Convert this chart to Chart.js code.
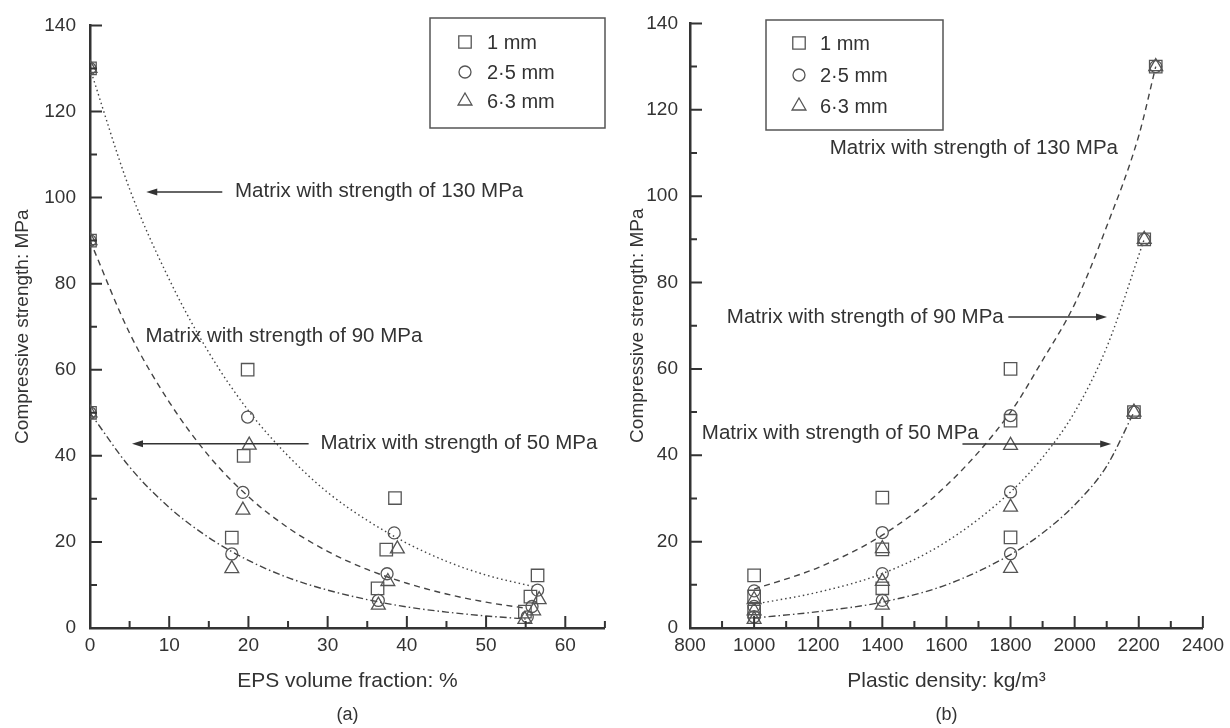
<!DOCTYPE html>
<html>
<head>
<meta charset="utf-8">
<script src="https://cdn.jsdelivr.net/npm/chart.js@4.4.1/dist/chart.umd.min.js"></script>
<style>
  html, body { margin: 0; padding: 0; background: #fff; }
  #wrap { position: relative; width: 1230px; height: 728px; }
  .panel { position: absolute; top: 0; width: 615px; height: 728px; }
</style>
</head>
<body>
<div id="wrap">
  <div class="panel" style="left:0"><canvas id="chartA" width="615" height="728"></canvas></div>
  <div class="panel" style="left:615px"><canvas id="chartB" width="615" height="728"></canvas></div>
</div>
<script>
// ---- (a) strength vs EPS volume fraction ----
var sizeLabels = ["1 mm", "2\u00b75 mm", "6\u00b73 mm"];

var epsSquareX = [0, 0, 0, 19.9, 19.4, 17.9, 38.5, 37.4, 36.3, 56.5, 55.6, 54.9];
var epsSquareY = [130, 90, 50, 60, 40, 21, 30.2, 18.2, 9.2, 12.2, 7.3, 3.8];
var epsCircleX = [0, 0, 0, 19.9, 19.3, 17.9, 38.4, 37.5, 36.4, 56.5, 55.8, 55.2];
var epsCircleY = [130, 90, 50, 49, 31.5, 17.2, 22.1, 12.6, 6.4, 8.8, 5.0, 2.6];
var epsTriangleX = [0, 0, 0, 20.1, 19.3, 17.9, 38.8, 37.6, 36.4, 56.7, 56, 54.9];
var epsTriangleY = [130, 90, 50, 42.5, 27.4, 13.8, 18.4, 10.8, 5.3, 6.6, 4.0, 2.0];

// fitted curves
var epsFit130X = [0, 5, 10, 15, 20, 25, 30, 35, 40, 45, 50, 56];
var epsFit130Y = [130, 102, 81, 64, 50.5, 40, 31.5, 25, 19.7, 15.5, 12.3, 9.6];
var epsFit90X = [0, 5, 10, 15, 20, 25, 30, 35, 40, 45, 50, 55];
var epsFit90Y = [90, 68.5, 52.5, 40, 30.5, 23.3, 17.8, 13.6, 10.4, 7.9, 6.0, 4.6];
var epsFit50X = [0, 5, 10, 15, 20, 25, 30, 35, 40, 45, 50, 55];
var epsFit50Y = [50, 37.4, 28, 21, 15.7, 11.7, 8.8, 6.6, 4.9, 3.7, 2.8, 2.1];

// ---- (b) strength vs plastic density ----
var denX = [1000, 1000, 1000, 1400, 1400, 1400, 1800, 1800, 1800, 2253, 2217, 2185];
var denSquareY = [12.2, 7.3, 3.8, 30.2, 18.2, 9.2, 60, 48, 21, 130, 90, 50];
var denCircleY = [8.6, 5.0, 2.6, 22.1, 12.6, 6.4, 49.2, 31.5, 17.2, 130, 90, 50];
var denTriangleY = [6.6, 4.0, 2.0, 18.4, 10.8, 5.3, 42.3, 28, 13.8, 130, 90, 50];

var denFit130X = [1000, 1200, 1400, 1600, 1800, 1900, 2000, 2100, 2200, 2253];
var denFit130Y = [9, 14, 21.5, 33, 50, 62, 75, 93, 114, 130];
var denFit90X = [1000, 1200, 1400, 1600, 1800, 1900, 2000, 2100, 2217];
var denFit90Y = [5.5, 8.3, 12.6, 20, 31.5, 39.5, 50, 65, 90];
var denFit50X = [1000, 1200, 1400, 1600, 1800, 1900, 2000, 2100, 2185];
var denFit50Y = [2.3, 3.8, 6, 10, 17, 22, 28.5, 37.5, 50];

var yTicks = [0, 20, 40, 60, 80, 100, 120, 140];
var epsTicks = [0, 10, 20, 30, 40, 50, 60];
var denTicks = [800, 1000, 1200, 1400, 1600, 1800, 2000, 2200, 2400];

var INK = "#333";
var MARK = "#555";
var DOT = [1.5, 3];
var DASH = [6, 4.5];
var DASHDOT = [7, 3, 1.5, 3];
var FAMILY = "'Liberation Sans', Arial, sans-serif";

Chart.defaults.font.family = FAMILY;
Chart.defaults.font.size = 19;
Chart.defaults.color = INK;

function pts(xs, ys) {
  return xs.map(function (x, i) { return { x: x, y: ys[i] }; });
}

function markerSet(label, style, radius, xs, ys) {
  return {
    label: label,
    data: pts(xs, ys),
    showLine: false,
    pointStyle: style,
    pointRadius: radius,
    pointHoverRadius: radius,
    pointBorderWidth: 1.3,
    pointBorderColor: MARK,
    pointBackgroundColor: "rgba(0,0,0,0)"
  };
}

function curveSet(label, xs, ys, dash) {
  return {
    label: label,
    data: pts(xs, ys),
    showLine: true,
    pointRadius: 0,
    pointHoverRadius: 0,
    borderColor: "#444",
    borderWidth: 1.4,
    borderDash: dash,
    cubicInterpolationMode: "monotone",
    fill: false
  };
}

function drawMarker(ctx, style, x, y, r) {
  ctx.beginPath();
  if (style === "rect") {
    var s = r * Math.SQRT1_2;
    ctx.rect(x - s, y - s, 2 * s, 2 * s);
  } else if (style === "circle") {
    ctx.arc(x, y, r, 0, Math.PI * 2);
  } else {
    for (var k = 0; k < 3; k++) {
      var a = k * 2 * Math.PI / 3;
      var px = x + r * Math.sin(a), py = y - r * Math.cos(a);
      if (k === 0) ctx.moveTo(px, py); else ctx.lineTo(px, py);
    }
    ctx.closePath();
  }
  ctx.stroke();
}

// inward tick marks, major + minor
var inwardTicks = {
  id: "inwardTicks",
  afterDraw: function (chart, args, o) {
    var ctx = chart.ctx, a = chart.chartArea;
    var xs = chart.scales.x, ys = chart.scales.y;
    ctx.save();
    ctx.strokeStyle = INK;
    ctx.lineWidth = 2;
    ctx.beginPath();
    var v, p, major;
    for (v = xs.min + o.xMinor; v <= xs.max + 1e-6; v += o.xMinor) {
      major = Math.abs(v / o.xMajor - Math.round(v / o.xMajor)) < 1e-6;
      p = xs.getPixelForValue(v);
      ctx.moveTo(p, a.bottom);
      ctx.lineTo(p, a.bottom - (major ? 12 : 7));
    }
    for (v = ys.min + o.yMinor; v <= ys.max + 1e-6; v += o.yMinor) {
      major = Math.abs(v / o.yMajor - Math.round(v / o.yMajor)) < 1e-6;
      p = ys.getPixelForValue(v);
      ctx.moveTo(a.left, p);
      ctx.lineTo(a.left + (major ? 12 : 7), p);
    }
    ctx.stroke();
    ctx.restore();
  }
};

// legend box with open markers
var boxLegend = {
  id: "boxLegend",
  afterDraw: function (chart, args, o) {
    var ctx = chart.ctx;
    ctx.save();
    ctx.strokeStyle = "#555";
    ctx.lineWidth = 1.5;
    ctx.strokeRect(o.left, o.top, o.width, o.height);
    ctx.font = "20px " + FAMILY;
    ctx.fillStyle = INK;
    ctx.textBaseline = "middle";
    ctx.textAlign = "left";
    for (var i = 0; i < 3; i++) {
      var ds = chart.data.datasets[i];
      ctx.strokeStyle = MARK;
      ctx.lineWidth = 1.3;
      drawMarker(ctx, ds.pointStyle, o.markerX, o.rows[i], ds.pointRadius);
      ctx.fillText(ds.label, o.textX, o.rows[i] + 1);
    }
    ctx.restore();
  }
};

// notes and arrows, anchored in data coordinates
var notes = {
  id: "notes",
  afterDraw: function (chart, args, o) {
    var ctx = chart.ctx, xs = chart.scales.x, ys = chart.scales.y;
    ctx.save();
    ctx.font = "20.5px " + FAMILY;
    ctx.fillStyle = INK;
    ctx.textBaseline = "middle";
    ctx.textAlign = "left";
    o.texts.forEach(function (t) {
      ctx.fillText(t.text, xs.getPixelForValue(t.x), ys.getPixelForValue(t.y));
    });
    ctx.strokeStyle = INK;
    ctx.lineWidth = 1.5;
    o.arrows.forEach(function (ar) {
      var x1 = xs.getPixelForValue(ar.from), x2 = xs.getPixelForValue(ar.to);
      var y = ys.getPixelForValue(ar.y);
      var dir = x2 > x1 ? 1 : -1;
      ctx.beginPath();
      ctx.moveTo(x1, y);
      ctx.lineTo(x2 - dir * 8, y);
      ctx.stroke();
      ctx.beginPath();
      ctx.moveTo(x2, y);
      ctx.lineTo(x2 - dir * 11, y - 3.5);
      ctx.lineTo(x2 - dir * 11, y + 3.5);
      ctx.closePath();
      ctx.fill();
    });
    // panel letter under the axis title
    ctx.textAlign = "center";
    ctx.font = "18px " + FAMILY;
    var a = chart.chartArea;
    ctx.fillText(o.panel, (a.left + a.right) / 2, 715);
    ctx.restore();
  }
};

function buildScales(xMin, xMax, xTickVals, xTitle, yWidth, yPad) {
  return {
    x: {
      type: "linear",
      min: xMin,
      max: xMax,
      grid: { display: false, drawTicks: false },
      border: { display: true, color: INK, width: 2.5 },
      ticks: {
        padding: 6,
        color: INK,
        callback: function (v) { return String(v); }
      },
      afterBuildTicks: function (s) {
        s.ticks = xTickVals.map(function (v) { return { value: v }; });
      },
      afterFit: function (s) { s.height = 100; },
      title: { display: true, text: xTitle, color: INK, font: { size: 21 }, padding: { top: 0, bottom: 34 } }
    },
    y: {
      type: "linear",
      min: 0,
      max: 140,
      grid: { display: false, drawTicks: false },
      border: { display: true, color: INK, width: 2.5 },
      ticks: { padding: yPad, color: INK },
      afterBuildTicks: function (s) {
        s.ticks = yTicks.map(function (v) { return { value: v }; });
      },
      afterFit: function (s) { s.width = yWidth; },
      title: { display: true, text: "Compressive strength: MPa", color: INK, padding: { top: 11, bottom: 0 } }
    }
  };
}

function baseOptions(scales, padRight) {
  return {
    responsive: false,
    animation: false,
    layout: { padding: { left: 0, right: padRight, top: 20, bottom: 0 } },
    scales: scales,
    plugins: { legend: { display: false }, tooltip: { enabled: false } }
  };
}

// chart (a)
var optsA = baseOptions(buildScales(0, 65, epsTicks, "EPS volume fraction: %", 90, 14), 7);
optsA.plugins.inwardTicks = { xMinor: 5, xMajor: 10, yMinor: 10, yMajor: 20 };
optsA.plugins.boxLegend = { left: 430, top: 18, width: 175, height: 110, markerX: 465, textX: 487, rows: [42, 72, 101] };
optsA.plugins.notes = {
  panel: "(a)",
  texts: [
    { text: "Matrix with strength of 130 MPa", x: 18.3, y: 101.5 },
    { text: "Matrix with strength of 90 MPa", x: 7.0, y: 67.7 },
    { text: "Matrix with strength of 50 MPa", x: 29.1, y: 42.8 }
  ],
  arrows: [
    { from: 16.7, to: 7.1, y: 101.3 },
    { from: 27.6, to: 5.3, y: 42.8 }
  ]
};

new Chart(document.getElementById("chartA"), {
  type: "scatter",
  data: {
    datasets: [
      markerSet(sizeLabels[0], "rect", 8.8, epsSquareX, epsSquareY),
      markerSet(sizeLabels[1], "circle", 6, epsCircleX, epsCircleY),
      markerSet(sizeLabels[2], "triangle", 8, epsTriangleX, epsTriangleY),
      curveSet("130 MPa fit", epsFit130X, epsFit130Y, DOT),
      curveSet("90 MPa fit", epsFit90X, epsFit90Y, DASH),
      curveSet("50 MPa fit", epsFit50X, epsFit50Y, DASHDOT)
    ]
  },
  options: optsA,
  plugins: [inwardTicks, boxLegend, notes]
});

// chart (b)
var optsB = baseOptions(buildScales(800, 2400, denTicks, "Plastic density: kg/m\u00b3", 75, 12), 26);
optsB.plugins.inwardTicks = { xMinor: 100, xMajor: 200, yMinor: 10, yMajor: 20 };
optsB.plugins.boxLegend = { left: 151, top: 20, width: 177, height: 110, markerX: 184, textX: 205, rows: [43, 75, 106] };
optsB.plugins.notes = {
  panel: "(b)",
  texts: [
    { text: "Matrix with strength of 130 MPa", x: 1236, y: 111 },
    { text: "Matrix with strength of 90 MPa", x: 915, y: 72 },
    { text: "Matrix with strength of 50 MPa", x: 837, y: 45.1 }
  ],
  arrows: [
    { from: 1793, to: 2101, y: 72 },
    { from: 1650, to: 2114, y: 42.6 }
  ]
};

new Chart(document.getElementById("chartB"), {
  type: "scatter",
  data: {
    datasets: [
      markerSet(sizeLabels[0], "rect", 8.8, denX, denSquareY),
      markerSet(sizeLabels[1], "circle", 6, denX, denCircleY),
      markerSet(sizeLabels[2], "triangle", 8, denX, denTriangleY),
      curveSet("130 MPa fit", denFit130X, denFit130Y, DASH),
      curveSet("90 MPa fit", denFit90X, denFit90Y, DOT),
      curveSet("50 MPa fit", denFit50X, denFit50Y, DASHDOT)
    ]
  },
  options: optsB,
  plugins: [inwardTicks, boxLegend, notes]
});
</script>
</body>
</html>
